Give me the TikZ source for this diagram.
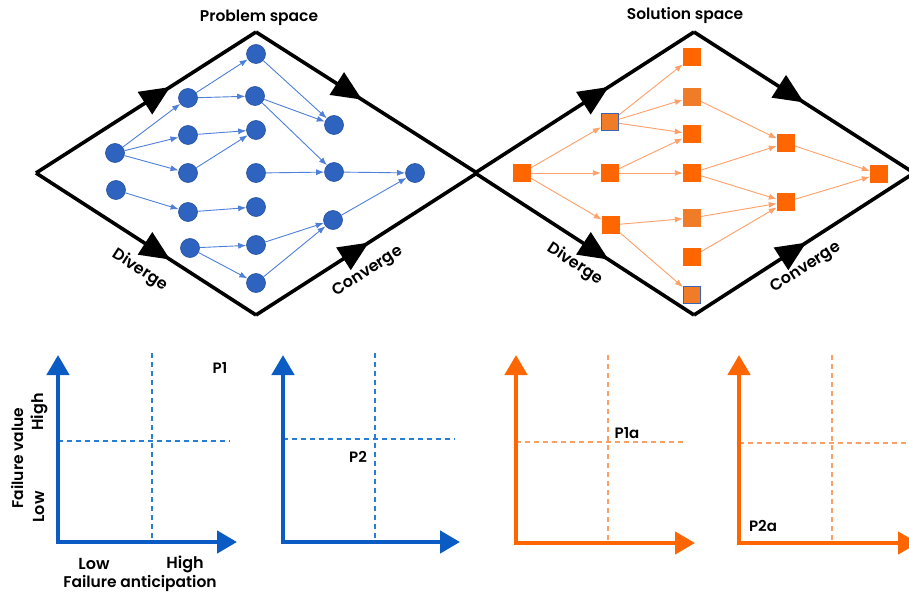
\documentclass[tikz,border=0pt]{standalone}
\usepackage{fontspec}
\setmainfont{Poppins}[BoldFont={Poppins SemiBold}]
\usetikzlibrary{arrows.meta,decorations.markings}
\definecolor{bfill}{RGB}{47,99,192}
\definecolor{bdraw}{RGB}{36,80,160}
\definecolor{bedge}{RGB}{78,128,218}
\definecolor{baxis}{RGB}{10,92,196}
\definecolor{bdash}{RGB}{40,125,215}
\definecolor{ofill}{RGB}{255,102,0}
\definecolor{ofill2}{RGB}{240,124,40}
\definecolor{oedge}{RGB}{255,160,105}
\definecolor{odash}{RGB}{250,160,100}
\definecolor{bbord}{RGB}{60,100,180}
\tikzset{
  bc/.style={circle,fill=bfill,draw=bdraw,line width=0.6pt,minimum size=19pt,inner sep=0pt},
  osq/.style={rectangle,fill=ofill,minimum size=18pt,inner sep=0pt},
  osq2/.style={rectangle,fill=ofill2,minimum size=18pt,inner sep=0pt},
  osqb/.style={rectangle,fill=ofill2,draw=bbord,line width=1.2pt,minimum size=17pt,inner sep=0pt},
  be/.style={draw=bedge,line width=0.9pt,-{Latex[length=8pt,width=6pt]}},
  oe/.style={draw=oedge,line width=0.9pt,-{Latex[length=8pt,width=6pt]}},
  dia/.style={line width=3.6pt,line join=miter},
  darr/.style={dia,postaction={decorate},decoration={markings,mark=at position #1 with {\arrow{Triangle[length=30pt,width=26pt]}}}},
  axb/.style={draw=baxis,line width=4.5pt,line join=miter,{Triangle[length=20pt,width=22pt]}-{Triangle[length=20pt,width=22pt]}},
  axo/.style={draw=ofill,line width=4.5pt,line join=miter,{Triangle[length=20pt,width=22pt]}-{Triangle[length=20pt,width=22pt]}},
  dshb/.style={draw=bdash,line width=1.2pt,dash pattern=on 5pt off 4pt},
  dsho/.style={draw=odash,line width=1.2pt,dash pattern=on 5pt off 4pt},
  ttl/.style={font=\bfseries\fontsize{15.5}{17}\selectfont,inner sep=0pt},
  lbl/.style={font=\bfseries\fontsize{15.5}{17}\selectfont,inner sep=0pt},
  rlbl/.style={font=\bfseries\fontsize{16}{18}\selectfont,inner sep=0pt},
  plbl/.style={font=\bfseries\fontsize{15}{17}\selectfont,inner sep=0pt},
}
\begin{document}
\begin{tikzpicture}[x=1pt,y=-1pt]
\useasboundingbox (0,0) rectangle (909,596);
\fill[white] (0,0) rectangle (909,596);
% ---------- left diamond ----------
\coordinate (L1) at (36,173);
\coordinate (T1) at (256,32);
\coordinate (B1) at (256,315);
\coordinate (R1) at (477,173);
\draw[darr=0.61] (L1) -- (T1);
\draw[darr=0.48] (T1) -- (R1);
\draw[darr=0.61] (L1) -- (B1);
\draw[darr=0.51] (B1) -- (R1);
% ---------- right diamond ----------
\coordinate (L2) at (475,173);
\coordinate (T2) at (694,32);
\coordinate (B2) at (694,315);
\coordinate (R2) at (914,173);
\draw[darr=0.61] (L2) -- (T2);
\draw[darr=0.5] (T2) -- (R2);
\draw[darr=0.61] (L2) -- (B2);
\draw[darr=0.51] (B2) -- (R2);
% titles
\node[ttl] (pst) at (259,18) {Problem space};
\node[ttl] (sst) at (685,15) {Solution space};
\node[rlbl,rotate=-33] (dv1) at (140,270) {Diverge};
\node[rlbl,rotate=33] (cv1) at (368,272) {Converge};
\node[rlbl,rotate=-33] (dv2) at (575,264) {Diverge};
\node[rlbl,rotate=33] (cv2) at (806,268) {Converge};
% ---------- blue circles ----------
\node[bc] (c1) at (115,153) {};
\node[bc] (c2) at (116,190) {};
\node[bc] (b1) at (188,98) {};
\node[bc] (b2) at (188,135) {};
\node[bc] (b3) at (188,173) {};
\node[bc] (b4) at (188,212) {};
\node[bc] (b5) at (190,248) {};
\node[bc] (d1) at (256,54) {};
\node[bc] (d2) at (255,96) {};
\node[bc] (d3) at (256,130) {};
\node[bc] (d4) at (256,173) {};
\node[bc] (d5) at (256,207) {};
\node[bc] (d6) at (256,245) {};
\node[bc] (d7) at (256,283) {};
\node[bc] (e1) at (334,125) {};
\node[bc] (e2) at (334,172) {};
\node[bc] (e3) at (333,220) {};
\node[bc] (f1) at (415,173) {};
\draw[be] (c1) -- (b1);
\draw[be] (c1) -- (b2);
\draw[be] (c1) -- (b3);
\draw[be] (c2) -- (b4);
\draw[be] (b1) -- (d1);
\draw[be] (b1) -- (d2);
\draw[be] (b2) -- (d3);
\draw[be] (b3) -- (d3);
\draw[be] (b4) -- (d5);
\draw[be] (b5) -- (d6);
\draw[be] (b5) -- (d7);
\draw[be] (d1) -- (e1);
\draw[be] (d2) -- (e1);
\draw[be] (d2) -- (e2);
\draw[be] (d4) -- (e2);
\draw[be] (e2) -- (f1);
\draw[be] (d6) -- (e3);
\draw[be] (d7) -- (e3);
\draw[be] (e3) -- (f1);
% ---------- orange squares ----------
\node[osq] (s0) at (522,173) {};
\node[osqb] (a1) at (610,122) {};
\node[osq] (a2) at (610,173) {};
\node[osq] (a3) at (611,225) {};
\node[osq] (m1) at (692,57) {};
\node[osq2] (m2) at (692,97) {};
\node[osq] (m3) at (692,134) {};
\node[osq] (m4) at (692,173) {};
\node[osq2] (m5) at (692,218) {};
\node[osq] (m6) at (692,257) {};
\node[osqb] (m7) at (692,295) {};
\node[osq] (n1) at (786,143) {};
\node[osq] (n2) at (786,202) {};
\node[osq] (t1) at (879,174) {};
\draw[oe] (s0) -- (a1);
\draw[oe] (s0) -- (a2);
\draw[oe] (s0) -- (a3);
\draw[oe] (a1) -- (m1);
\draw[oe] (a1) -- (m2);
\draw[oe] (a1) -- (m3);
\draw[oe] (a2) -- (m3);
\draw[oe] (a2) -- (m4);
\draw[oe] (a3) -- (m5);
\draw[oe] (a3) -- (m7);
\draw[oe] (m2) -- (n1);
\draw[oe] (m4) -- (n1);
\draw[oe] (m4) -- (n2);
\draw[oe] (m5) -- (n2);
\draw[oe] (m6) -- (n2);
\draw[oe] (n1) -- (t1);
\draw[oe] (n2) -- (t1);
% ---------- chart 1 ----------
\coordinate (o1) at (58,542);
\coordinate (y1) at (58,355);
\coordinate (x1) at (237,542);
\coordinate (v1a) at (152,353);
\coordinate (v1b) at (152,542);
\coordinate (h1a) at (58,441);
\coordinate (h1b) at (230,441);
\draw[dshb] (v1a) -- (v1b);
\draw[dshb] (h1a) -- (h1b);
\draw[axb] (y1) -- (o1) -- (x1);
\node[plbl] (p1) at (220,368) {P1};
\node[rlbl,rotate=90] (hi1) at (39,412) {High};
\node[rlbl,rotate=90] (lo1) at (39,507) {Low};
\node[lbl,rotate=90] (fv) at (17,458) {Failure value};
\node[rlbl] (lo2) at (94,564) {Low};
\node[rlbl] (hi2) at (185,564) {High};
\node[lbl] (fa) at (140,583) {Failure anticipation};
% ---------- chart 2 ----------
\coordinate (o2) at (283,542);
\coordinate (y2) at (283,355);
\coordinate (x2) at (460,542);
\coordinate (v2a) at (375,353);
\coordinate (v2b) at (375,542);
\coordinate (h2a) at (283,439);
\coordinate (h2b) at (455,439);
\draw[dshb] (v2a) -- (v2b);
\draw[dshb] (h2a) -- (h2b);
\draw[axb] (y2) -- (o2) -- (x2);
\node[plbl] (p2) at (358,457) {P2};
% ---------- chart 3 ----------
\coordinate (o3) at (516,543);
\coordinate (y3) at (516,355);
\coordinate (x3) at (695,543);
\coordinate (v3a) at (608,355);
\coordinate (v3b) at (608,543);
\coordinate (h3a) at (516,442);
\coordinate (h3b) at (687,442);
\draw[dsho] (v3a) -- (v3b);
\draw[dsho] (h3a) -- (h3b);
\draw[axo] (y3) -- (o3) -- (x3);
\node[plbl] (p1a) at (627,433) {P1a};
% ---------- chart 4 ----------
\coordinate (o4) at (739,543);
\coordinate (y4) at (739,355);
\coordinate (x4) at (918,543);
\coordinate (v4a) at (832,355);
\coordinate (v4b) at (832,543);
\coordinate (h4a) at (739,443);
\coordinate (h4b) at (909,443);
\draw[dsho] (v4a) -- (v4b);
\draw[dsho] (h4a) -- (h4b);
\draw[axo] (y4) -- (o4) -- (x4);
\node[plbl] (p2a) at (763,526) {P2a};
\end{tikzpicture}
\end{document}
